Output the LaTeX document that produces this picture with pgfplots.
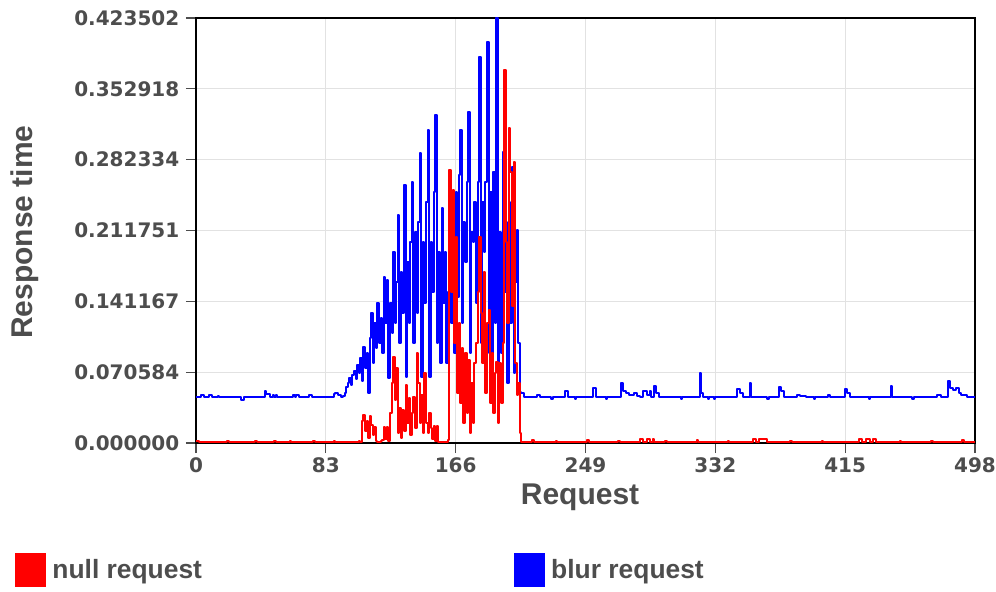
\documentclass[border=0pt]{standalone}
\usepackage{pgfplots}
\pgfplotsset{compat=1.18}
\usepackage{fontspec}
\setmainfont{Liberation Sans}
\newfontfamily\tickfont{DejaVu Sans}
\definecolor{txtgray}{RGB}{77,77,77}
\definecolor{gridgray}{RGB}{226,226,226}
\definecolor{nullred}{RGB}{255,0,0}
\definecolor{blurblue}{RGB}{0,0,255}

\pgfplotstableread{
x y
0 0.046
3 0.048
5 0.046
8 0.048
10 0.046
14 0.047
15 0.046
29 0.043
31 0.046
44 0.052
45 0.049
47 0.046
49 0.048
50 0.046
51 0.048
52 0.046
62 0.048
63 0.046
64 0.048
66 0.046
72 0.048
74 0.046
88 0.049
89 0.05
91 0.048
93 0.046
94 0.047
95 0.05
96 0.056
97 0.06
98 0.065
99 0.058
100 0.068
101 0.072
102 0.064
103 0.078
104 0.07
105 0.085
106 0.062
107 0.096
108 0.075
109 0.09
110 0.05
111 0.105
112 0.13
113 0.08
114 0.12
115 0.095
116 0.14
117 0.10
118 0.125
119 0.09
120 0.165
121 0.12
122 0.162
123 0.065
124 0.14
125 0.11
126 0.19
127 0.12
128 0.16
129 0.227
130 0.1
131 0.17
132 0.13
133 0.257
134 0.066
135 0.18
136 0.12
137 0.2
138 0.26
139 0.1
140 0.21
141 0.13
142 0.22
143 0.289
144 0.066
145 0.2
146 0.14
147 0.24
148 0.312
149 0.066
150 0.2
151 0.15
152 0.25
153 0.327
154 0.1
155 0.19
156 0.08
157 0.234
158 0.14
159 0.19
160 0.08
161 0.15
162 0.18
163 0.12
164 0.2
165 0.09
166 0.25
167 0.145
168 0.267
169 0.312
170 0.12
171 0.22
172 0.18
173 0.26
174 0.33
175 0.09
176 0.21
177 0.2
178 0.24
179 0.14
180 0.26
181 0.385
182 0.1
183 0.24
184 0.19
185 0.26
186 0.4
187 0.09
188 0.25
189 0.07
190 0.27
191 0.12
192 0.4235
193 0.06
194 0.21
195 0.09
196 0.29
197 0.15
198 0.22
199 0.06
200 0.24
201 0.12
202 0.275
203 0.07
204 0.16
205 0.212
206 0.1
207 0.051
208 0.05
210 0.046
218 0.048
220 0.046
227 0.044
228 0.0455
236 0.052
238 0.0455
242 0.044
243 0.0455
254 0.055
256 0.0455
262 0.044
263 0.0455
272 0.06
273 0.052
275 0.05
277 0.048
280 0.05
282 0.047
284 0.0455
286 0.052
288 0.048
290 0.052
291 0.0455
293 0.057
294 0.05
296 0.0455
310 0.044
311 0.0455
322 0.07
323 0.05
324 0.0455
327 0.044
328 0.0455
331 0.044
332 0.0455
346 0.054
348 0.05
350 0.0455
354 0.06
355 0.0455
365 0.044
366 0.0455
373 0.056
374 0.052
376 0.0455
384 0.048
386 0.047
390 0.0455
395 0.044
396 0.0455
404 0.048
405 0.0455
415 0.054
416 0.05
418 0.0455
430 0.044
431 0.0455
444 0.057
445 0.0455
458 0.044
459 0.0455
474 0.048
476 0.0455
481 0.062
482 0.055
484 0.053
486 0.055
488 0.05
489 0.048
493 0.0455
498 0.0455
}\blurdata

\pgfplotstableread{
x y
0 0.002
2 0.001
20 0.002
21 0.001
38 0.002
39 0.001
50 0.002
51 0.001
60 0.002
61 0.001
75 0.002
76 0.001
88 0.002
89 0.001
104 0.002
105 0.001
106 0.022
107 0.028
108 0.012
109 0.022
110 0.005
111 0.027
112 0.018
113 0.008
114 0.016
115 0.002
116 0.001
118 0.002
119 0.003
120 0.016
121 0.004
122 0.016
123 0.002
124 0.03
125 0.06
126 0.086
127 0.043
128 0.075
129 0.01
130 0.035
131 0.005
132 0.033
133 0.012
134 0.058
135 0.02
136 0.045
137 0.008
138 0.03
139 0.046
140 0.015
141 0.09
142 0.06
143 0.02
144 0.048
145 0.01
146 0.07
147 0.02
148 0.01
149 0.03
150 0.015
151 0.004
152 0.017
153 0.002
154 0.017
155 0.001
161 0.003
162 0.272
163 0.15
164 0.252
165 0.10
166 0.205
167 0.05
168 0.12
169 0.04
170 0.095
171 0.02
172 0.09
173 0.03
174 0.083
175 0.01
176 0.06
177 0.02
178 0.08
179 0.1
180 0.15
181 0.205
182 0.13
183 0.08
184 0.17
185 0.05
186 0.12
187 0.133
188 0.04
189 0.09
190 0.03
191 0.07
192 0.081
193 0.02
194 0.08
195 0.04
196 0.1
197 0.372
198 0.2
199 0.12
200 0.314
201 0.27
202 0.137
203 0.28
204 0.08
205 0.048
206 0.06
207 0.01
208 0.001
215 0.003
216 0.001
230 0.002
231 0.001
250 0.003
251 0.001
270 0.002
271 0.001
284 0.004
286 0.001
288 0.004
290 0.001
292 0.004
293 0.001
300 0.002
301 0.001
320 0.003
321 0.001
340 0.002
341 0.001
356 0.004
358 0.001
360 0.004
365 0.001
380 0.002
381 0.001
400 0.002
401 0.001
424 0.004
426 0.001
428 0.004
431 0.001
433 0.004
435 0.001
450 0.002
451 0.001
470 0.002
471 0.001
490 0.003
491 0.001
498 0.001
}\nulldata

\begin{document}
\begin{tikzpicture}
% page area: 1px = 0.75pt, axis box at (0,0)
\useasboundingbox (-147pt,-111.75pt) rectangle (600pt,332.25pt);
\begin{axis}[
  at={(0,0)}, anchor=south west,
  scale only axis, width=584.25pt, height=318.75pt,
  xmin=0, xmax=498, ymin=0, ymax=0.423502,
  xtick={0,83,166,249,332,415,498},
  xticklabels={0,83,166,249,332,415,498},
  ytick={0,0.070584,0.141167,0.211751,0.282334,0.352918,0.423502},
  yticklabels={0.000000,0.070584,0.141167,0.211751,0.282334,0.352918,0.423502},
  tick label style={font=\tickfont\bfseries\fontsize{15}{15}\selectfont, text=txtgray},
  yticklabel style={xshift=-1.5pt},
  tick align=outside, xtick pos=bottom, ytick pos=left,
  major tick length=7.5pt,
  tick style={txtgray, line width=0.8pt},
  grid=major, major grid style={gridgray, line width=0.8pt},
  axis line style={black, line width=1.2pt},
  xlabel={Request}, ylabel={Response time},
  label style={font=\bfseries\fontsize{22.5}{22.5}\selectfont, text=txtgray},
  xlabel style={at={(axis description cs:0.493,-0.127)}, anchor=center},
  ylabel style={at={(axis description cs:-0.2195,0.496)}, anchor=center},
  legend columns=2,
  legend style={at={(axis description cs:-0.2324,-0.2976)}, anchor=west,
    draw=none, fill=none, inner xsep=0pt, inner ysep=0pt,
    font=\bfseries\fontsize{19.8}{19.8}\selectfont, text=txtgray,
    /tikz/every odd column/.append style={column sep=3pt},
    /tikz/every even column/.append style={column sep=232pt}},
  legend cell align=left,
]
\addplot[draw=blurblue, line width=1.5pt, const plot, line join=round, forget plot]
  table[x=x, y=y] {\blurdata};
\addplot[draw=nullred, line width=1.5pt, const plot, line join=round, forget plot]
  table[x=x, y=y] {\nulldata};
\addlegendimage{legend image code/.code={\fill[nullred] (0pt,-12.4pt) rectangle (22.5pt,12.4pt);}}
\addlegendentry{null request}
\addlegendimage{legend image code/.code={\fill[blurblue] (0pt,-12.4pt) rectangle (22.5pt,12.4pt);}}
\addlegendentry{blur request}
\end{axis}
\end{tikzpicture}
\end{document}
